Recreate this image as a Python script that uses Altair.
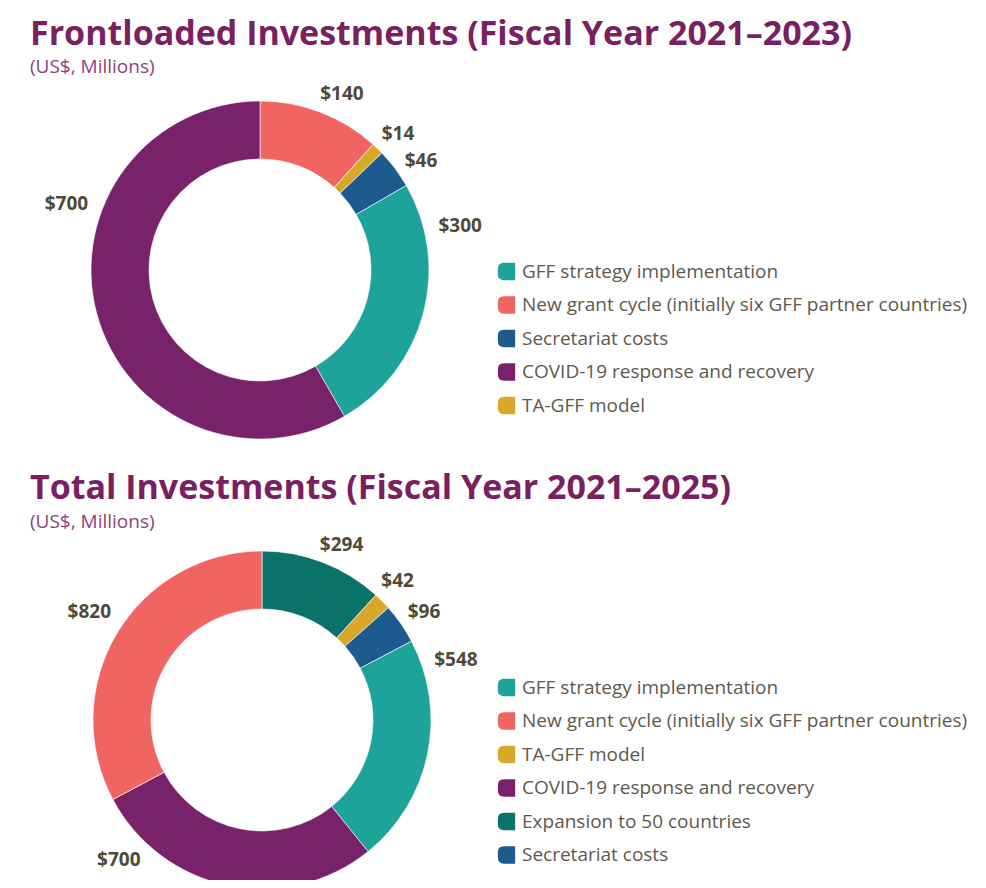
import altair as alt
import pandas as pd

# ---------------- data ----------------
TOP_TITLE = "Frontloaded Investments (Fiscal Year 2021–2023)"
BOTTOM_TITLE = "Total Investments (Fiscal Year 2021–2025)"
SUBTITLE = "(US$, Millions)"

GFF = "GFF strategy implementation"
NEW = "New grant cycle (initially six GFF partner countries)"
SEC = "Secretariat costs"
COVID = "COVID-19 response and recovery"
TA = "TA-GFF model"
EXP = "Expansion to 50 countries"

# slices in clockwise order from 12 o'clock
TOP_CATEGORIES = [NEW, TA, SEC, GFF, COVID]
TOP_VALUES = [140, 14, 46, 300, 700]
TOP_LEGEND = [GFF, NEW, SEC, COVID, TA]

BOTTOM_CATEGORIES = [EXP, TA, SEC, GFF, COVID, NEW]
BOTTOM_VALUES = [294, 42, 96, 548, 700, 820]
BOTTOM_LEGEND = [GFF, NEW, TA, COVID, EXP, SEC]

# ---------------- style ----------------
COLORS = {
    GFF: "#1DA39A",
    NEW: "#F06462",
    SEC: "#1D5A8D",
    COVID: "#78226C",
    TA: "#D9A82A",
    EXP: "#0B7269",
}
TITLE_COLOR = "#7A1F62"
SUB_COLOR = "#8E3F80"
VALUE_COLOR = "#4F4A38"
LEGEND_TEXT = "#5E594B"
FONT = "Open Sans"

# label placement: angle nudge (degrees) from the slice middle, and distance (px)
TOP_LABEL_SHIFT = [4, 1.4, 2.8, -27.5, 33.8]
TOP_LABEL_RADIUS = [194, 193.5, 194.5, 205, 204.5]
BOTTOM_LABEL_SHIFT = [3.3, -1, 0.9, -28.9, 34.2, 1]
BOTTOM_LABEL_RADIUS = [192, 194, 195, 203, 200, 203.5]

SYMBOL = "M1,-1L1,1L-0.3,1Q-1,1,-1,0.3L-1,-0.3Q-1,-1,-0.3,-1Z"

W, H = 970, 872


def donut(categories, values, shifts, radii, legend_order, cx, cy, lx, ly):
    df = pd.DataFrame({
        "category": categories,
        "value": values,
        "order": list(range(len(values))),
        "shift": shifts,
        "r": radii,
    })
    base = alt.Chart(df)
    arcs = base.mark_arc(innerRadius=111, outerRadius=169, stroke="white",
                         strokeWidth=0.6).encode(
        theta=alt.Theta("value:Q", stack=True),
        order=alt.Order("order:Q"),
        color=alt.Color(
            "category:N",
            scale=alt.Scale(domain=legend_order,
                            range=[COLORS[c] for c in legend_order]),
            legend=alt.Legend(
                orient="none", legendX=lx, legendY=ly, title=None,
                labelFont=FONT, labelFontSize=19, labelColor=LEGEND_TEXT,
                symbolType=SYMBOL, symbolSize=300, symbolStrokeWidth=0,
                symbolOpacity=1, rowPadding=13.5, labelOffset=6, labelLimit=700,
            ),
        ),
        x=alt.value(cx),
        y=alt.value(cy),
    )
    labels = base.transform_joinaggregate(
        total="sum(value)"
    ).transform_window(
        cum="sum(value)", sort=[alt.SortField("order")], frame=[None, 0]
    ).transform_calculate(
        angle="(datum.cum - datum.value / 2) / datum.total * 360 + datum.shift",
        label="'$' + datum.value",
    ).mark_text(
        font=FONT, fontSize=19, fontWeight="bold", color=VALUE_COLOR,
        align="center", baseline="middle",
    ).encode(
        theta=alt.Theta("angle:Q", stack=False, scale=alt.Scale(domain=[0, 360])),
        radius=alt.Radius("r:Q", scale=None),
        text="label:N",
        x=alt.value(cx),
        y=alt.value(cy),
    )
    return arcs, labels


def text_layer(txt, x, y, size, color, weight):
    return alt.Chart(pd.DataFrame({"t": [txt]})).mark_text(
        font=FONT, fontSize=size, fontWeight=weight, color=color,
        align="left", baseline="alphabetic",
    ).encode(text="t:N", x=alt.value(x), y=alt.value(y))


top_arcs, top_labels = donut(TOP_CATEGORIES, TOP_VALUES, TOP_LABEL_SHIFT,
                             TOP_LABEL_RADIUS, TOP_LEGEND, 252, 262, 489, 254)
bot_arcs, bot_labels = donut(BOTTOM_CATEGORIES, BOTTOM_VALUES, BOTTOM_LABEL_SHIFT,
                             BOTTOM_LABEL_RADIUS, BOTTOM_LEGEND, 254, 712, 489, 670)

chart = alt.layer(
    top_arcs, top_labels, bot_arcs, bot_labels,
    text_layer(TOP_TITLE, 22, 37, 34, TITLE_COLOR, "bold"),
    text_layer(SUBTITLE, 22, 65, 19, SUB_COLOR, "normal"),
    text_layer(BOTTOM_TITLE, 22, 491, 34, TITLE_COLOR, "bold"),
    text_layer(SUBTITLE, 22, 520, 19, SUB_COLOR, "normal"),
).resolve_scale(
    theta="independent", color="independent"
).properties(
    width=W, height=H, padding=0,
    autosize=alt.AutoSizeParams(type="none"),
).configure_view(stroke=None)

chart.save("out.html", embed_options={"renderer": "svg", "actions": False})
